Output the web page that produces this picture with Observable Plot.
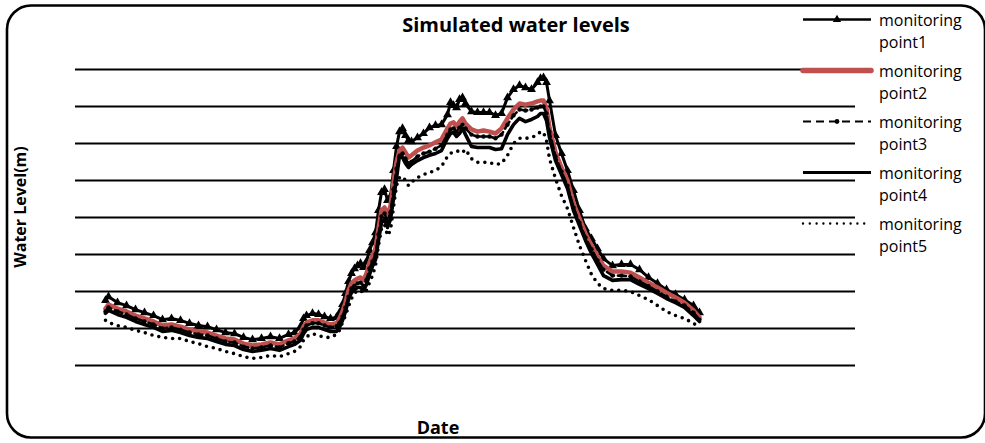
<!DOCTYPE html>
<html>
<head>
<meta charset="utf-8">
<script src="https://cdn.jsdelivr.net/npm/d3@7"></script>
<script src="https://cdn.jsdelivr.net/npm/@observablehq/plot@0.6"></script>
<style>
  html, body { margin: 0; padding: 0; background: #fff; }
  #chart svg { display: block; }
</style>
</head>
<body>
<div id="chart"></div>
<script>
// Day index of each simulated value
const day = [10,11,14,17,20,23,26,29,32,35,38,41,44,47,50,53,56,59,62,65,68,71,73,75,76,77,79,81,83,85,87,88,89,90,91,92,93,94,95,96,97,98,99,100,101,102,103,104,105,106,107,108,109,110,111,112,114,116,118,120,122,124,125,126,127,128,129,130,132,134,136,138,140,142,144,146,148,150,152,154,155,156,157,158,160,162,164,166,168,170,172,174,176,179,182,185,188,191,194,197,200,203,206,208];

// Simulated water level (m) at each monitoring point
const point1 = [1.76,1.86,1.70,1.62,1.51,1.43,1.35,1.24,1.27,1.22,
  1.14,1.08,1.05,0.97,0.89,0.86,0.76,0.70,0.73,0.78,
  0.73,0.84,0.89,1.05,1.27,1.35,1.41,1.38,1.32,1.27,
  1.30,1.43,1.65,1.95,2.27,2.49,2.62,2.70,2.76,2.65,
  2.81,3.11,3.32,3.59,4.19,4.68,4.76,4.46,4.57,5.27,
  5.92,6.32,6.41,6.22,6.08,6.05,6.16,6.27,6.43,6.49,
  6.51,6.78,7.11,7.03,6.97,7.19,7.24,7.08,6.86,6.84,
  6.84,6.84,6.76,6.81,7.24,7.46,7.57,7.51,7.46,7.65,
  7.76,7.78,7.65,7.16,6.22,5.73,5.27,4.73,4.19,3.70,
  3.43,3.16,2.89,2.70,2.73,2.73,2.59,2.38,2.22,2.05,
  1.92,1.78,1.62,1.43];

const point2 = [1.54,1.65,1.54,1.46,1.35,1.27,1.19,1.08,1.11,1.05,
  0.97,0.92,0.89,0.81,0.73,0.70,0.59,0.54,0.57,0.62,
  0.57,0.68,0.73,0.86,1.05,1.16,1.22,1.22,1.16,1.11,
  1.14,1.27,1.46,1.70,2.03,2.22,2.30,2.35,2.38,2.30,
  2.49,2.78,2.97,3.16,3.70,4.19,4.27,4.05,4.32,4.95,
  5.49,5.81,5.89,5.76,5.62,5.68,5.81,5.89,5.95,6.03,
  6.11,6.41,6.54,6.57,6.46,6.59,6.68,6.54,6.38,6.32,
  6.35,6.32,6.27,6.41,6.68,6.92,7.08,7.05,7.08,7.14,
  7.16,7.16,6.95,6.43,5.76,5.35,5.00,4.38,3.97,3.57,
  3.24,2.95,2.70,2.54,2.54,2.51,2.38,2.24,2.11,1.97,
  1.84,1.70,1.49,1.30];

const point3 = [1.46,1.57,1.46,1.38,1.27,1.19,1.11,1.00,1.03,0.97,
  0.89,0.84,0.81,0.73,0.65,0.62,0.51,0.46,0.49,0.54,
  0.49,0.60,0.65,0.78,0.97,1.08,1.14,1.14,1.08,1.03,
  1.06,1.16,1.32,1.57,1.86,2.08,2.16,2.22,2.24,2.16,
  2.32,2.62,2.81,3.00,3.54,4.03,4.11,3.89,4.14,4.76,
  5.32,5.65,5.73,5.59,5.46,5.51,5.65,5.73,5.78,5.86,
  5.95,6.24,6.38,6.41,6.32,6.43,6.51,6.41,6.24,6.19,
  6.19,6.19,6.14,6.24,6.51,6.76,6.92,6.89,6.92,6.97,
  7.00,7.00,6.81,6.32,5.65,5.24,4.86,4.27,3.86,3.46,
  3.14,2.84,2.59,2.43,2.43,2.41,2.27,2.14,2.00,1.86,
  1.73,1.62,1.43,1.24];

const point4 = [1.41,1.49,1.38,1.30,1.19,1.11,1.03,0.92,0.95,0.89,
  0.81,0.76,0.73,0.65,0.57,0.54,0.43,0.38,0.41,0.46,
  0.41,0.51,0.57,0.68,0.86,0.97,1.03,1.03,0.97,0.92,
  0.92,1.03,1.22,1.46,1.78,1.97,2.05,2.11,2.11,2.03,
  2.19,2.46,2.68,2.86,3.38,3.86,3.95,3.73,3.95,4.51,
  5.05,5.68,5.62,5.46,5.35,5.43,5.54,5.62,5.68,5.73,
  5.81,6.14,6.27,6.30,6.19,6.27,6.41,6.24,5.92,5.89,
  5.89,5.89,5.84,5.86,6.24,6.51,6.68,6.59,6.65,6.73,
  6.81,6.81,6.62,6.16,5.54,5.16,4.78,4.19,3.78,3.38,
  3.03,2.73,2.43,2.30,2.32,2.32,2.19,2.08,1.95,1.81,
  1.70,1.57,1.35,1.19];

const point5 = [1.22,1.16,1.08,1.03,0.95,0.89,0.81,0.76,0.73,0.73,
  0.65,0.59,0.51,0.46,0.38,0.32,0.24,0.19,0.22,0.27,
  0.24,0.32,0.38,0.51,0.68,0.78,0.86,0.81,0.76,0.76,
  0.84,0.95,1.16,1.35,1.59,1.81,1.95,2.03,2.03,1.95,
  2.03,2.24,2.43,2.70,3.24,3.70,3.81,3.51,3.65,4.27,
  4.86,5.08,5.11,5.00,4.86,4.95,5.08,5.16,5.22,5.27,
  5.38,5.65,5.73,5.78,5.78,5.81,5.76,5.84,5.59,5.49,
  5.49,5.49,5.43,5.46,5.68,6.00,6.14,6.14,6.16,6.24,
  6.32,6.30,6.08,5.59,5.05,4.59,4.24,3.73,3.24,2.84,
  2.46,2.22,2.08,2.03,2.03,2.00,1.89,1.78,1.62,1.46,
  1.35,1.27,1.14,1.03];

// Horizontal grid levels (m)
const gridLevels = [0, 1, 2, 3, 4, 5, 6, 7, 8];

const seriesLabels = [
  ["monitoring", "point1"],
  ["monitoring", "point2"],
  ["monitoring", "point3"],
  ["monitoring", "point4"],
  ["monitoring", "point5"]
];

const titleText = "Simulated water levels";
const xLabel = "Date";
const yLabel = "Water Level(m)";

const FONT = "'Open Sans', 'Noto Sans', sans-serif";
const RED = "#C0504D";

const rows = values => day.map((d, i) => ({day: d, level: values[i]}));

const chart = Plot.plot({
  width: 985,
  height: 443,
  marginLeft: 75,
  marginRight: 130,
  marginTop: 69,
  marginBottom: 78,
  x: {domain: [0, 260], axis: null},
  y: {domain: [0, 8], axis: null},
  style: {fontFamily: FONT, background: "transparent", overflow: "visible"},
  marks: [
    Plot.ruleY(gridLevels, {stroke: "#000", strokeWidth: 1.8}),
    // point1: solid line with triangle markers
    Plot.line(rows(point1), {x: "day", y: "level", stroke: "#000", strokeWidth: 3}),
    Plot.dot(rows(point1), {x: "day", y: "level", symbol: "triangle", r: 3.3, fill: "#000"}),
    // point2: thick red line
    Plot.line(rows(point2), {x: "day", y: "level", stroke: RED, strokeWidth: 4.5, strokeLinejoin: "round"}),
    // point3: dashed line with dot markers
    Plot.line(rows(point3), {x: "day", y: "level", stroke: "#000", strokeWidth: 2.6, strokeDasharray: "8,4"}),
    Plot.dot(rows(point3), {x: "day", y: "level", r: 2.2, fill: "#000"}),
    // point4: thick solid line
    Plot.line(rows(point4), {x: "day", y: "level", stroke: "#000", strokeWidth: 3.6}),
    // point5: dotted line
    Plot.line(rows(point5), {x: "day", y: "level", stroke: "#000", strokeWidth: 3.6, strokeDasharray: "0,7", strokeLinecap: "round"})
  ]
});

document.getElementById("chart").append(chart);

const svg = d3.select(chart);

// Rounded outer frame
svg.append("rect")
  .attr("x", 7).attr("y", 5.5)
  .attr("width", 978).attr("height", 432)
  .attr("rx", 24).attr("ry", 24)
  .attr("fill", "none").attr("stroke", "#000").attr("stroke-width", 2.6);

// Title and axis labels
svg.append("text")
  .attr("x", 516).attr("y", 32)
  .attr("text-anchor", "middle")
  .style("font-family", FONT).style("font-size", "20px").style("font-weight", 700)
  .text(titleText);

svg.append("text")
  .attr("x", 438).attr("y", 434)
  .attr("text-anchor", "middle")
  .style("font-family", FONT).style("font-size", "18px").style("font-weight", 700)
  .text(xLabel);

svg.append("text")
  .attr("transform", "translate(26,207) rotate(-90)")
  .attr("text-anchor", "middle")
  .style("font-family", FONT).style("font-size", "16px").style("font-weight", 700)
  .text(yLabel);

// Legend
const legendStyles = [
  {stroke: "#000", width: 2.6, dash: null, cap: "butt", marker: "triangle"},
  {stroke: RED, width: 5.5, dash: null, cap: "round", marker: null},
  {stroke: "#000", width: 1.8, dash: "8,5", cap: "butt", marker: "dot"},
  {stroke: "#000", width: 3.2, dash: null, cap: "butt", marker: null},
  {stroke: "#000", width: 2.4, dash: "0,6.8", cap: "round", marker: null}
];

const legend = svg.append("g").attr("text-anchor", "start");
legendStyles.forEach((s, i) => {
  const y = 19.5 + i * 51;
  const g = legend.append("g");
  g.append("line")
    .attr("x1", 803).attr("x2", 871).attr("y1", y).attr("y2", y)
    .attr("stroke", s.stroke).attr("stroke-width", s.width)
    .attr("stroke-linecap", s.cap)
    .attr("stroke-dasharray", s.dash);
  if (s.marker === "triangle") {
    g.append("path")
      .attr("transform", `translate(837,${y})`)
      .attr("d", d3.symbol(d3.symbolTriangle, 30)());
  } else if (s.marker === "dot") {
    g.append("circle").attr("cx", 837).attr("cy", y).attr("r", 2.4).attr("fill", "#000");
  }
  const t = g.append("text")
    .attr("text-anchor", "start")
    .style("font-family", FONT).style("font-size", "16px").attr("fill", "#000");
  t.append("tspan").attr("x", 879).attr("y", y + 6).text(seriesLabels[i][0]);
  t.append("tspan").attr("x", 879).attr("y", y + 28).text(seriesLabels[i][1]);
});
</script>
</body>
</html>
